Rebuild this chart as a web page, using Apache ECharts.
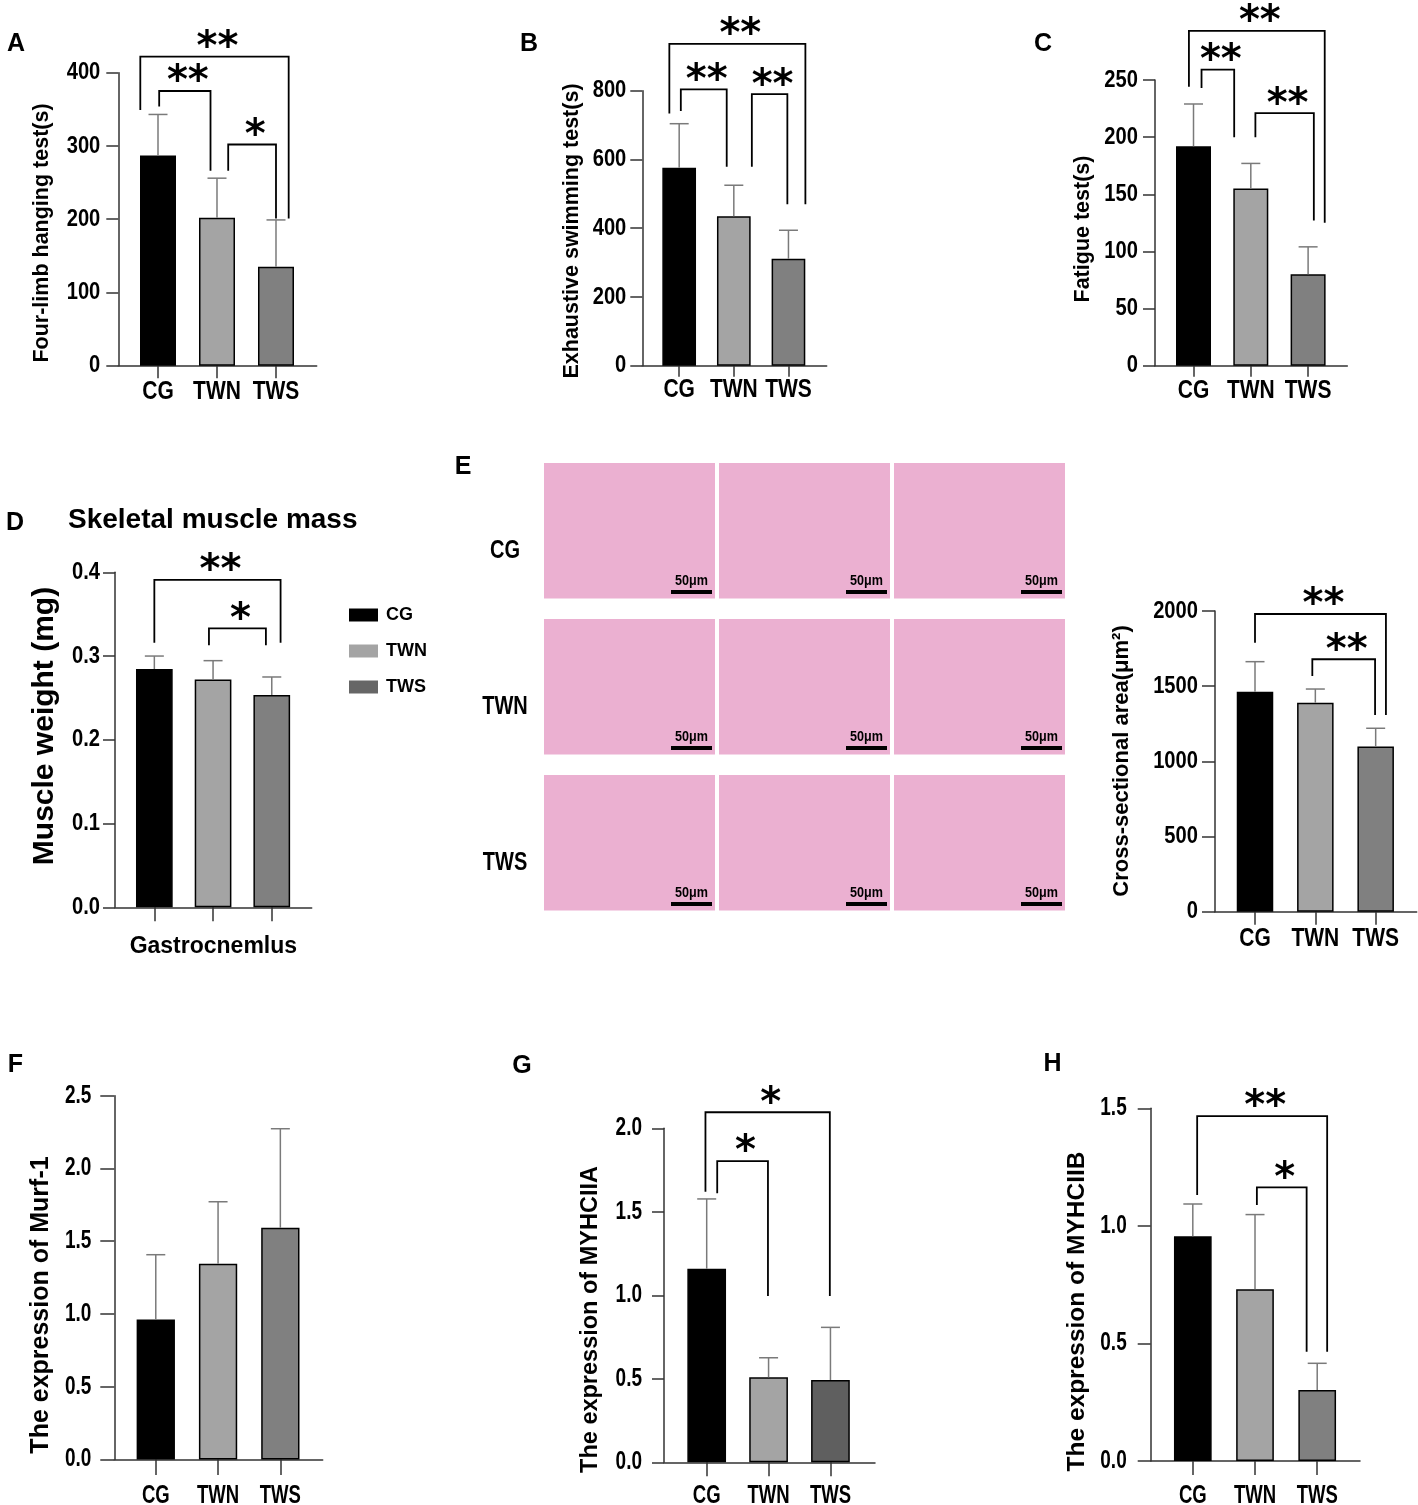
<!DOCTYPE html>
<html>
<head>
<meta charset="utf-8">
<script src="https://cdn.jsdelivr.net/npm/echarts@6.0.0/dist/echarts.min.js"></script>
<style>
  html, body { margin: 0; padding: 0; background: #fff; }
  #main { width: 1418px; height: 1505px; }
</style>
</head>
<body>
<div id="main"></div>
<script>
// groups on every x axis
var groups = ['CG', 'TWN', 'TWS']

// A  four-limb hanging test (s)
var hangMean = [287, 202, 135]
var hangErr = [343, 256, 199]
// B  exhaustive swimming test (s)
var swimMean = [576, 435, 311]
var swimErr = [704, 525, 394]
// C  fatigue test (s)
var fatigueMean = [192, 155, 80]
var fatigueErr = [229, 177, 104]
// D  gastrocnemius weight (mg)
var muscleMean = [0.2845, 0.272, 0.2535]
var muscleErr = [0.300, 0.2945, 0.275]
// E  cross-sectional area (um2)
var csaMean = [1463, 1390, 1098]
var csaErr = [1663, 1481, 1220]
// F  Murf-1
var murfMean = [0.962, 1.345, 1.592]
var murfErr = [1.407, 1.771, 2.273]
// G  MYHCIIA
var m2aMean = [1.159, 0.509, 0.493]
var m2aErr = [1.577, 0.626, 0.808]
// H  MYHCIIB
var m2bMean = [0.956, 0.730, 0.302]
var m2bErr = [1.093, 1.048, 0.4155]

// y ticks: [min, max, step]
var ticksA = [0, 400, 100]
var ticksB = [0, 800, 200]
var ticksC = [0, 250, 50]
var ticksD = [0, 0.4, 0.1]
var ticksE = [0, 2000, 500]
var ticksF = [0, 2.5, 0.5]
var ticksG = [0, 2, 0.5]
var ticksH = [0, 1.5, 0.5]

// significance brackets: [x from, x to, top, left end, right end, mark]
var bracketsA = [[0.02, 0.89, 375, 354, 266, '**'], [1.19, 2.0, 302, 266, 201, '*'], [-0.3, 2.215, 422, 349, 201, '**']]
var bracketsB = [[0.03, 0.87, 804, 741, 579, '**'], [1.33, 1.98, 790, 579, 470, '**'], [-0.18, 2.31, 936, 734, 470, '**']]
var bracketsC = [[0.14, 0.71, 259, 243, 200, '**'], [1.08, 2.10, 221, 200, 127, '**'], [-0.08, 2.29, 293, 244, 125, '**']]
var bracketsD = [[0, 2.15, 0.391, 0.316, 0.316, '**'], [0.93, 1.9, 0.333, 0.313, 0.313, '*']]
var bracketsE = [[0, 2.17, 1980, 1789, 1308, '**'], [0.95, 1.99, 1679, 1568, 1308, '**']]
var bracketsG = [[0.17, 0.99, 1.804, 1.611, 0.996, '*'], [-0.02, 1.99, 2.096, 1.620, 0.996, '*']]
var bracketsH = [[0.07, 2.16, 1.467, 1.131, 0.465, '**'], [1.03, 1.83, 1.164, 1.089, 0.465, '*']]

var SANS = "'Liberation Sans', Arial, sans-serif"
var grays = ['#000000', '#a4a4a4', '#808080']
var axisStyle = { color: '#333', width: 1.5 }

var panels = [
  { rect: [118.3, 72.7, 198.4, 293], xr: [-0.673, 2.69], ticks: ticksA, mean: hangMean, err: hangErr, br: bracketsA, barW: 36, yTick: 12, yGap: 18, xTick: 12.5, catGap: 26 },
  { rect: [642.3, 90.7, 184.4, 275], xr: [-0.675, 2.70], ticks: ticksB, mean: swimMean, err: swimErr, br: bracketsB, barW: 33.7, yTick: 12, yGap: 16, xTick: 11, catGap: 24.5 },
  { rect: [1155, 80, 192.3, 285.7], xr: [-0.672, 2.684], ticks: ticksC, mean: fatigueMean, err: fatigueErr, br: bracketsC, barW: 35, yTick: 12, yGap: 17, xTick: 11, catGap: 25 },
  { rect: [115, 572.3, 196.7, 335], xr: [-0.67, 2.68], ticks: ticksD, mean: muscleMean, err: muscleErr, br: bracketsD, barW: 36.7, yTick: 12, yGap: 15, xTick: 14, dec: 1, legend: true, xName: 'Gastrocnemlus' },
  { rect: [1215, 611, 201.7, 300.7], xr: [-0.663, 2.68], ticks: ticksE, mean: csaMean, err: csaErr, br: bracketsE, barW: 36.5, yTick: 13, yGap: 17, xTick: 13, catGap: 27 },
  { rect: [114.3, 1095.7, 208.4, 363.7], xr: [-0.666, 2.68], ticks: ticksF, mean: murfMean, err: murfErr, br: [], barW: 38.3, yTick: 14, yGap: 23, xTick: 15.5, catGap: 36.5, dec: 1, tall: true },
  { rect: [664, 1128.3, 211, 334], xr: [-0.69, 2.72], ticks: ticksG, mean: m2aMean, err: m2aErr, br: bracketsG, barW: 38.7, yTick: 12, yGap: 22, xTick: 14, catGap: 33.5, dec: 1, tall: true, colors: ['#000000', '#a4a4a4', '#5f5f5f'] },
  { rect: [1150.7, 1108.3, 209.3, 352.7], xr: [-0.677, 2.688], ticks: ticksH, mean: m2bMean, err: m2bErr, br: bracketsH, barW: 37.7, yTick: 13, yGap: 24, xTick: 14, catGap: 35, dec: 1, tall: true }
]

var option = {
  animation: false,
  backgroundColor: '#fff',
  grid: [], xAxis: [], yAxis: [], series: [], graphic: [],
  legend: {
    data: [{ name: 'CG' }, { name: 'TWN' }, { name: 'TWS', itemStyle: { color: '#666' } }],
    orient: 'vertical', left: 349, top: 605, padding: 0, icon: 'rect',
    itemWidth: 29, itemHeight: 13, itemGap: 16, selectedMode: false,
    itemStyle: { borderWidth: 0 },
    textStyle: { fontFamily: SANS, fontWeight: 'bold', fontSize: 18, lineHeight: 20, color: '#000', padding: [0, 0, 0, 3] }
  }
}

// condensed bold labels, placed with the axis scales
function labelText(x, y, text, size, sx, align) {
  return { type: 'text', x: x, y: y, scaleX: sx, silent: true,
    style: { text: text, align: align, verticalAlign: 'middle', font: 'bold ' + size + 'px ' + SANS, fill: '#000' } }
}

panels.forEach(function (p, k) {
  var colors = p.colors || grays
  var lblSize = p.tall ? 25 : 24
  var lblScale = p.tall ? 0.76 : 0.84
  option.grid.push({ left: p.rect[0], top: p.rect[1], width: p.rect[2], height: p.rect[3], containLabel: false, outerBoundsMode: 'none' })
  option.xAxis.push({
    gridIndex: k, type: 'value', min: p.xr[0], max: p.xr[1],
    axisLine: { show: true, onZero: false, lineStyle: axisStyle },
    splitLine: { show: false },
    axisTick: { show: true, customValues: [0, 1, 2], length: p.xTick, lineStyle: axisStyle },
    axisLabel: { show: false },
    name: p.xName || '', nameLocation: 'middle', nameGap: 39.5,
    nameTextStyle: { fontFamily: SANS, fontWeight: 'bold', fontSize: 23, color: '#000', verticalAlign: 'middle' }
  })
  option.yAxis.push({
    gridIndex: k, type: 'value', min: p.ticks[0], max: p.ticks[1], interval: p.ticks[2],
    axisLine: { show: true, onZero: false, lineStyle: axisStyle },
    axisTick: { show: true, length: p.yTick, lineStyle: axisStyle },
    splitLine: { show: false },
    axisLabel: { show: false }
  })

  if (p.legend) {
    groups.forEach(function (g, i) {
      option.series.push({
        name: g, type: 'bar', xAxisIndex: k, yAxisIndex: k, barWidth: p.barW, barGap: '-100%',
        itemStyle: { color: colors[i], borderColor: '#000', borderWidth: 1.5 },
        data: [[i, p.mean[i]]]
      })
    })
  } else {
    option.series.push({
      type: 'bar', xAxisIndex: k, yAxisIndex: k, barWidth: p.barW,
      itemStyle: { borderColor: '#000', borderWidth: 1.5 },
      data: p.mean.map(function (v, i) { return { value: [i, v], itemStyle: { color: colors[i] } } })
    })
  }

  // error bars (upper only)
  option.series.push({
    type: 'custom', xAxisIndex: k, yAxisIndex: k, clip: false, z: 3,
    data: p.mean.map(function (v, i) { return [i, v, p.err[i]] }),
    renderItem: function (params, api) {
      var lo = api.coord([api.value(0), api.value(1)])
      var hi = api.coord([api.value(0), api.value(2)])
      var st = { stroke: '#7a7a7a', lineWidth: 1.5 }
      return { type: 'group', children: [
        { type: 'line', shape: { x1: lo[0], y1: lo[1], x2: hi[0], y2: hi[1] }, style: st },
        { type: 'line', shape: { x1: hi[0] - 9.5, y1: hi[1], x2: hi[0] + 9.5, y2: hi[1] }, style: st }
      ] }
    }
  })

  // y tick labels
  var yVals = []
  for (var v = p.ticks[0]; v <= p.ticks[1] + 1e-9; v += p.ticks[2]) yVals.push(v)
  option.series.push({
    type: 'custom', xAxisIndex: k, yAxisIndex: k, clip: false, silent: true,
    data: yVals.map(function (v) { return [p.xr[0], v] }),
    renderItem: function (params, api) {
      var pt = api.coord([api.value(0), api.value(1)])
      var val = api.value(1)
      return labelText(pt[0] - p.yGap, pt[1], p.dec ? val.toFixed(p.dec) : String(Math.round(val)), lblSize, lblScale, 'right')
    }
  })

  // category labels under the ticks
  if (!p.xName) {
    option.series.push({
      type: 'custom', xAxisIndex: k, yAxisIndex: k, clip: false, silent: true,
      data: groups.map(function (g, i) { return [i, p.ticks[0]] }),
      renderItem: function (params, api) {
        var pt = api.coord([api.value(0), api.value(1)])
        return labelText(pt[0], pt[1] + p.catGap, groups[params.dataIndex], 25, p.tall ? 0.74 : 0.84, 'center')
      }
    })
  }

  // significance brackets
  if (p.br.length) {
    option.series.push({
      type: 'custom', xAxisIndex: k, yAxisIndex: k, clip: false, z: 4,
      data: p.br.map(function (b) { return b.slice(0, 5) }),
      renderItem: function (params, api) {
        var b = p.br[params.dataIndex]
        var a0 = api.coord([b[0], b[3]])
        var a1 = api.coord([b[0], b[2]])
        var b1 = api.coord([b[1], b[2]])
        var b0 = api.coord([b[1], b[4]])
        return { type: 'group', children: [
          { type: 'polyline', shape: { points: [a0, a1, b1, b0] }, style: { stroke: '#000', lineWidth: 1.8, fill: null } },
          { type: 'text', style: { text: b[5], x: (a1[0] + b1[0]) / 2 + 3, y: a1[1] - 8, align: 'center', verticalAlign: 'middle',
            font: 'bold 40px "DejaVu Sans"', fill: '#000' } }
        ] }
      }
    })
  }
})

// panel letters, titles and rotated y-axis titles
var letters = [['A', 16, 44], ['B', 529, 44], ['C', 1043, 44], ['D', 15, 523], ['E', 463, 467], ['F', 15.5, 1065], ['G', 522, 1066], ['H', 1052.5, 1064]]
letters.forEach(function (l) {
  option.graphic.push({ type: 'text', x: l[1], y: l[2], style: { text: l[0], align: 'center', verticalAlign: 'middle', font: 'bold 25px ' + SANS, fill: '#000' } })
})
option.graphic.push({ type: 'text', x: 68, y: 520, style: { text: 'Skeletal muscle mass', align: 'left', verticalAlign: 'middle', font: 'bold 28px ' + SANS, fill: '#000' } })

var yTitles = [
  ['Four-limb hanging test(s)', 42.5, 233, 21.5],
  ['Exhaustive swimming test(s)', 572.5, 231, 21.5],
  ['Fatigue test(s)', 1083.3, 229, 21.5],
  ['Muscle weight (mg)', 45, 726, 30],
  ['Cross-sectional area(μm²)', 1121.7, 761, 22],
  ['The expression of Murf-1', 41, 1305, 25],
  ['The expression of MYHCIIA', 591, 1319.5, 23.5],
  ['The expression of MYHCIIB', 1077.5, 1311.5, 24.5]
]
yTitles.forEach(function (t) {
  option.graphic.push({ type: 'text', x: t[1], y: t[2], rotation: Math.PI / 2,
    style: { text: t[0], align: 'center', verticalAlign: 'middle', font: 'bold ' + t[3] + 'px ' + SANS, fill: '#000' } })
})

// E: H&E micrograph tiles (stand-ins) with scale bars
var tileCols = [544, 719, 894]
var tileRows = [463, 619, 775]
groups.forEach(function (g, r) {
  option.graphic.push(labelText(505, tileRows[r] + 88, g, 25, 0.8, 'center'))
  tileCols.forEach(function (cx) {
    var y0 = tileRows[r]
    option.graphic.push({ type: 'rect', shape: { x: cx, y: y0, width: 171, height: 135.5 }, style: { fill: '#ebb0d1' } })
    option.graphic.push({ type: 'rect', shape: { x: cx + 127, y: y0 + 127, width: 41, height: 4 }, style: { fill: '#000' } })
    option.graphic.push(labelText(cx + 147.5, y0 + 118, '50μm', 14, 0.9, 'center'))
  })
})

var chart = echarts.init(document.getElementById('main'))
chart.setOption(option)
</script>
</body>
</html>
